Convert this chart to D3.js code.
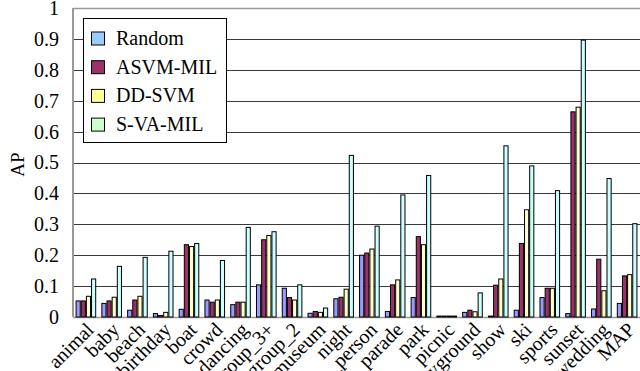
<!DOCTYPE html>
<html><head><meta charset="utf-8">
<script src="https://cdn.jsdelivr.net/npm/d3@7"></script>
<style>body{margin:0;background:#fff}svg{display:block}</style>
</head><body><svg id="c" width="640" height="371"></svg>
<script>
const categories = ["animal","baby","beach","birthday","boat","crowd","dancing","group_3+","group_2","museum","night","one_person","parade","park","picnic","playground","show","ski","sports","sunset","wedding","MAP"];
const seriesNames = ["Random","ASVM-MIL","DD-SVM","S-VA-MIL"];
const random  = [0.052,0.044,0.022,0.011,0.025,0.055,0.040,0.104,0.093,0.012,0.059,0.200,0.018,0.063,0.003,0.015,0.003,0.022,0.063,0.011,0.026,0.044];
const asvmMil = [0.052,0.052,0.055,0.005,0.234,0.048,0.048,0.250,0.063,0.018,0.064,0.207,0.104,0.260,0.003,0.022,0.103,0.238,0.093,0.664,0.187,0.133];
const ddSvm   = [0.067,0.064,0.067,0.015,0.228,0.055,0.048,0.264,0.055,0.015,0.090,0.220,0.120,0.234,0.003,0.017,0.123,0.347,0.093,0.679,0.085,0.137];
const svaMil  = [0.123,0.164,0.193,0.213,0.238,0.183,0.290,0.276,0.104,0.029,0.523,0.294,0.395,0.458,0.003,0.078,0.554,0.489,0.409,0.896,0.448,0.302];
const yTicks = [0,0.1,0.2,0.3,0.4,0.5,0.6,0.7,0.8,0.9,1];
const yTickLabels = ["0","0.1","0.2","0.3","0.4","0.5","0.6","0.7","0.8","0.9","1"];
const barColors = ["#9999FF","#993366","#FFFFCC","#CCFFFF"];
const legendColors = ["#99CCFF","#993366","#FFFF99","#CCFFCC"];
const seriesValues = [random, asvmMil, ddSvm, svaMil];

const FONT = '"Liberation Serif"';
const svg = d3.select("#c");
const L = 73, R = 640, T = 8, B = 317;
const x = d3.scaleBand().domain(categories).range([L, R]).paddingInner(0.2).paddingOuter(0.1);
const xs = d3.scaleBand().domain(seriesNames).range([0, x.bandwidth()]);
const y = d3.scaleLinear().domain([0, 1]).range([B, T]);

// gridlines
svg.append("g").selectAll("line").data(yTicks.filter(t => t > 0 && t < 1)).join("line")
  .attr("x1", L).attr("x2", R).attr("y1", d => Math.round(y(d)) + 0.5).attr("y2", d => Math.round(y(d)) + 0.5)
  .attr("stroke", "#3a3a3a").attr("stroke-width", 1);
// frame
svg.append("line").attr("x1", L).attr("x2", R).attr("y1", T + 0.5).attr("y2", T + 0.5).attr("stroke", "#999").attr("stroke-width", 1.5);
svg.append("line").attr("x1", L).attr("x2", L).attr("y1", T).attr("y2", B).attr("stroke", "#999").attr("stroke-width", 2);
svg.append("line").attr("x1", L).attr("x2", R).attr("y1", B + 0.5).attr("y2", B + 0.5).attr("stroke", "#999").attr("stroke-width", 1.5);

// bars
const groups = svg.append("g").selectAll("g").data(categories).join("g")
  .attr("transform", d => `translate(${x(d)},0)`);
groups.selectAll("rect").data((c, i) => seriesNames.map((s, k) => ({s, k, v: seriesValues[k][i]}))).join("rect")
  .attr("x", d => xs(d.s) + 0.5).attr("width", xs.bandwidth() - 1)
  .attr("y", d => y(d.v)).attr("height", d => Math.max(0, y(0) - y(d.v)))
  .attr("fill", d => barColors[d.k]).attr("stroke", "#000").attr("stroke-width", 1);

// y axis labels
const yAxis = d3.axisLeft(y).tickValues(yTicks).tickFormat((d, i) => yTickLabels[i]).tickSize(0).tickPadding(14);
const ya = svg.append("g").attr("transform", `translate(${L},0)`).call(yAxis);
ya.attr("font-family", null);
ya.select(".domain").remove();
ya.selectAll("text").attr("font-size", 20).style("font-family", FONT).attr("fill", "#000");

// x axis labels
const xa = svg.append("g").attr("transform", `translate(0,${B})`)
  .call(d3.axisBottom(x).tickSize(0).tickPadding(0));
xa.attr("font-family", null);
xa.select(".domain").remove();
xa.selectAll("text").attr("font-size", 20).style("font-family", FONT).attr("fill", "#000")
  .attr("text-anchor", "end").attr("dy", 0).attr("y", 0)
  .attr("transform", "translate(9,14) rotate(-45)");

// AP label
svg.append("text").attr("transform", `translate(24,${(T + B) / 2 + 2}) rotate(-90)`)
  .attr("text-anchor", "middle").attr("font-size", 19).style("font-family", FONT).text("AP");

// legend
const lg = svg.append("g");
lg.append("rect").attr("x", 83.5).attr("y", 18.5).attr("width", 143).attr("height", 124)
  .attr("fill", "#fff").attr("stroke", "#000").attr("stroke-width", 1);
const items = lg.selectAll("g").data(seriesNames).join("g")
  .attr("transform", (d, i) => `translate(0,${38.5 + i * 28.7})`);
items.append("rect").attr("x", 91.5).attr("y", -6.5).attr("width", 13).attr("height", 13)
  .attr("fill", (d, i) => legendColors[i]).attr("stroke", "#000").attr("stroke-width", 1);
items.append("text").attr("x", 116).attr("y", 6.5).attr("font-size", 20).style("font-family", FONT).text(d => d);
</script></body></html>
